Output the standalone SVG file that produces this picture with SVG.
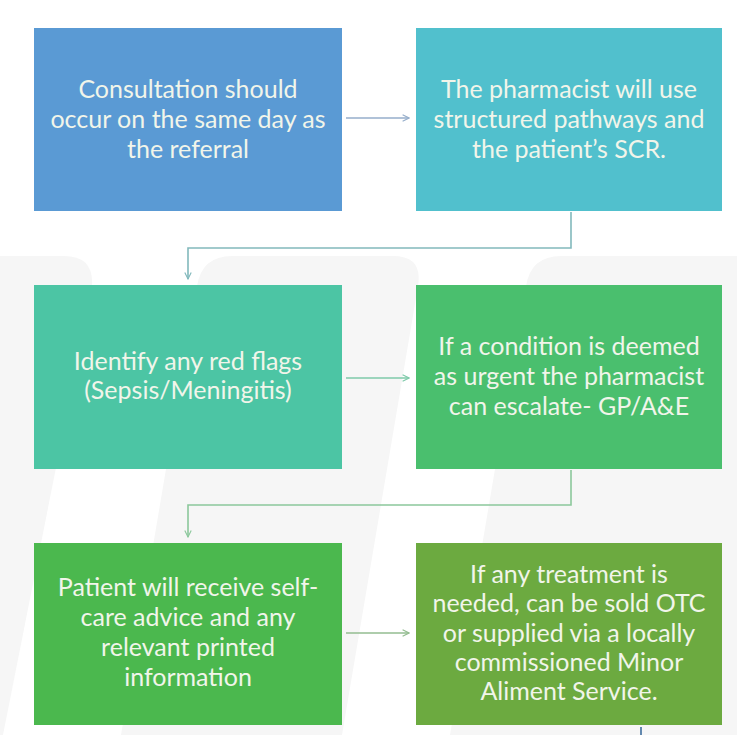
<svg xmlns="http://www.w3.org/2000/svg" width="737" height="735" viewBox="0 0 737 735">
<style>
.box{stroke:none}
.t{font-family:Lato,"Open Sans","Liberation Sans",sans-serif;font-size:25px;fill:#F1F5EA;text-anchor:middle}
.c{fill:none;stroke-width:1.6}
</style>
<defs>
<marker id="ah" viewBox="0 0 10 10" refX="9" refY="5" markerWidth="8" markerHeight="8" markerUnits="userSpaceOnUse" orient="auto">
<path d="M1,1 L9,5 L1,9" fill="none" stroke="context-stroke" stroke-width="1.4"/>
</marker>
</defs>
<rect width="737" height="735" fill="#FFFFFF"/>
<g id="watermark" fill="#F6F6F6">
<path d="M0,256 L64,256 Q94,256 92,286 L3,735 L0,735 Z"/>
<path d="M232,256 L393,256 Q423,256 418,286 L342,735 L121,735 L197,286 Q202,256 232,256 Z"/>
<path d="M561,256 L737,256 L737,735 L450,735 L526,286 Q531,256 561,256 Z"/>
</g>
<g id="n1"><rect class="box" x="34" y="28" width="308" height="183" fill="#5A9AD4"/>
<text class="t" x="188" y="98">Consultation should</text>
<text class="t" x="188" y="128">occur on the same day as</text>
<text class="t" x="188" y="158">the referral</text></g>
<g id="n2"><rect class="box" x="416" y="28" width="306" height="183" fill="#51C0CD"/>
<text class="t" x="569" y="98">The pharmacist will use</text>
<text class="t" x="569" y="128">structured pathways and</text>
<text class="t" x="569" y="158">the patient’s SCR.</text></g>
<g id="n3"><rect class="box" x="34" y="285" width="308" height="184" fill="#4CC5A4"/>
<text class="t" x="188" y="370">Identify any red flags</text>
<text class="t" x="188" y="399">(Sepsis/Meningitis)</text></g>
<g id="n4"><rect class="box" x="416" y="285" width="306" height="184" fill="#4ABF6E"/>
<text class="t" x="569" y="355">If a condition is deemed</text>
<text class="t" x="569" y="385">as urgent the pharmacist</text>
<text class="t" x="569" y="415">can escalate- GP/A&amp;E</text></g>
<g id="n5"><rect class="box" x="34" y="543" width="308" height="182" fill="#4BB84E"/>
<text class="t" x="188" y="596">Patient will receive self-</text>
<text class="t" x="188" y="626">care advice and any</text>
<text class="t" x="188" y="656">relevant printed</text>
<text class="t" x="188" y="686">information</text></g>
<g id="n6"><rect class="box" x="416" y="543" width="306" height="182" fill="#6CAA40"/>
<text class="t" x="569" y="583">If any treatment is</text>
<text class="t" x="569" y="612">needed, can be sold OTC</text>
<text class="t" x="569" y="642">or supplied via a locally</text>
<text class="t" x="569" y="671">commissioned Minor</text>
<text class="t" x="569" y="700">Aliment Service.</text></g>
<g id="connectors">
<path class="c" d="M346,118 L409,118" stroke="#96AECB" marker-end="url(#ah)"/>
<path class="c" d="M571,212 L571,248 L188,248 L188,279" stroke="#82B9BC" marker-end="url(#ah)"/>
<path class="c" d="M346,378 L409,378" stroke="#7FCAAA" marker-end="url(#ah)"/>
<path class="c" d="M571,470 L571,505 L188,505 L188,537" stroke="#8CC89C" marker-end="url(#ah)"/>
<path class="c" d="M346,633 L409,633" stroke="#93BC90" marker-end="url(#ah)"/>
<path class="c" d="M641,727 L641,735" stroke="#3F6E9E"/>
</g>
</svg>
